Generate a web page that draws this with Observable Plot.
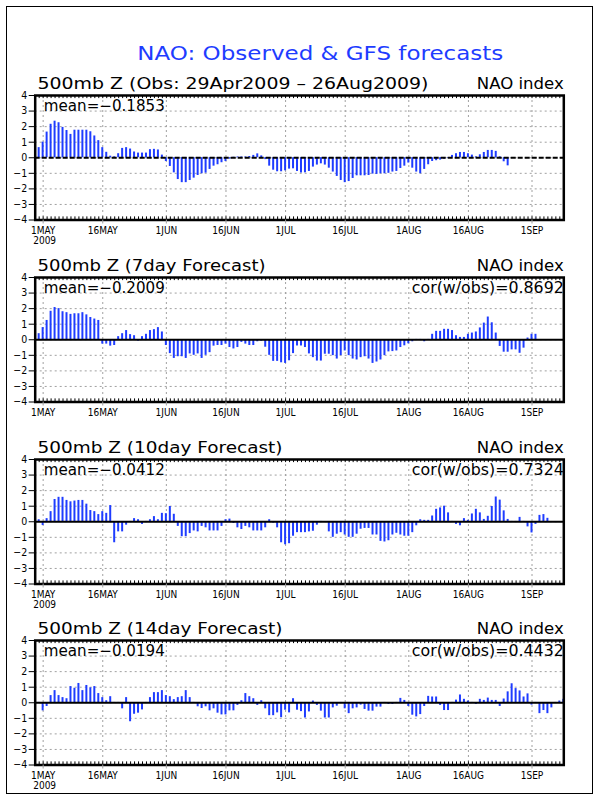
<!DOCTYPE html>
<html>
<head>
<meta charset="utf-8">
<script src="https://cdn.jsdelivr.net/npm/d3@7"></script>
<script src="https://cdn.jsdelivr.net/npm/@observablehq/plot@0.6"></script>
<style>
  body { margin: 0; background: #fff; }
  #wrap { position: relative; width: 600px; height: 800px; background: #fff; overflow: hidden; }
  #border { position: absolute; left: 6px; top: 6px; width: 587px; height: 788px; border: 1px solid #000; box-sizing: border-box; }
  .panel { position: absolute; left: 0; }
  .panel svg { overflow: visible; background: transparent; }
</style>
</head>
<body>
<div id="wrap"><div id="border"></div></div>
<script>
// ---------------- data ----------------
const startDate = "2009-04-29";
const tickDates = ["2009-05-01","2009-05-16","2009-06-01","2009-06-16","2009-07-01","2009-07-16","2009-08-01","2009-08-16","2009-09-01"];
const tickLabels = ["1MAY","16MAY","1JUN","16JUN","1JUL","16JUL","1AUG","16AUG","1SEP"];
const yTicks = [-4,-3,-2,-1,0,1,2,3,4];
const chartTitle = "NAO: Observed & GFS forecasts";
const panelTitles = ["500mb Z (Obs: 29Apr2009 – 26Aug2009)","500mb Z (7day Forecast)","500mb Z (10day Forecast)","500mb Z (14day Forecast)"];
const indexLabel = "NAO index";
const meanLabels = ["mean=−0.1853","mean=−0.2009","mean=−0.0412","mean=−0.0194"];
const corLabels = [null,"cor(w/obs)=0.8692","cor(w/obs)=0.7324","cor(w/obs)=0.4432"];
const yearLabel = "2009";

// Observed daily NAO index, 29Apr2009 - 26Aug2009
const obs = [0.42,0.65,1.0,1.65,2.15,2.35,2.25,1.95,1.75,1.5,1.77,1.77,1.77,1.77,1.67,1.4,1.1,0.65,0.35,0.1,
  0.06,0.26,0.6,0.65,0.56,0.37,0.3,0.3,0.3,0.52,0.54,0.5,0.17,-0.24,-0.56,-0.97,-1.4,-1.6,-1.6,-1.46,
  -1.31,-1.14,-1.03,-0.99,-0.75,-0.54,-0.45,-0.32,-0.24,-0.09,0.03,0.05,0.05,0.05,0.08,0.15,0.25,0.12,-0.12,-0.54,
  -0.8,-0.9,-0.9,-0.84,-0.73,-0.71,-0.88,-0.98,-0.97,-0.88,-0.6,-0.47,-0.39,-0.47,-0.67,-0.92,-1.2,-1.46,-1.6,-1.53,
  -1.33,-1.16,-1.16,-1.16,-1.14,-1.05,-1.07,-1.03,-1.03,-1.0,-0.92,-0.88,-0.69,-0.54,-0.34,-0.67,-0.92,-1.03,-0.75,-0.45,
  -0.24,-0.19,-0.15,-0.1,-0.04,0.15,0.26,0.34,0.34,0.26,0.17,0.06,0.19,0.34,0.47,0.47,0.41,0.06,-0.26,-0.52];

// 7-day forecast, valid 29Apr2009 - 02Sep2009
const fc7 = [0.03,0.39,0.78,1.24,1.83,2.07,2.0,1.8,1.74,1.63,1.67,1.67,1.74,1.6,1.43,1.33,1.24,-0.28,-0.28,-0.41,
  -0.37,0.2,0.39,0.59,0.33,0.26,-0.09,0.2,0.35,0.59,0.65,0.78,0.5,-0.37,-0.89,-1.2,-1.09,-1.09,-1.2,-0.91,
  -1.0,-0.91,-1.2,-1.0,-0.83,-0.41,-0.37,-0.37,-0.28,-0.5,-0.59,-0.5,-0.17,-0.28,-0.37,-0.37,-0.13,-0.09,-0.48,-1.0,
  -1.39,-1.39,-1.48,-1.52,-1.35,-0.89,-0.4,-0.4,-0.5,-0.91,-1.15,-1.37,-1.37,-0.93,-0.93,-1.02,-1.24,-1.02,-0.72,-1.02,
  -1.24,-1.3,-1.15,-1.09,-1.24,-1.52,-1.43,-1.3,-1.02,-0.78,-0.76,-0.72,-0.5,-0.39,-0.26,-0.13,0.02,0.02,-0.13,0.02,
  0.35,0.54,0.54,0.67,0.67,0.59,0.26,0.15,0.15,0.35,0.43,0.5,0.76,1.07,1.46,1.09,0.43,-0.43,-0.8,-0.8,
  -0.65,-0.65,-0.87,-0.54,0.11,0.35,0.35];

// 10-day forecast, valid 29Apr2009 - 05Sep2009
const fc10 = [0.17,0.13,-0.24,0.2,0.65,1.43,1.57,1.57,1.37,1.28,1.33,1.37,1.37,1.13,0.72,0.65,0.46,0.65,0.54,1.04,
  -1.35,-0.65,-0.65,-0.22,0.02,0.2,0.13,-0.17,0.02,0.13,0.33,0.13,0.54,0.52,0.98,0.48,-0.3,-0.96,-0.96,-0.76,
  -0.59,-0.65,-0.3,-0.39,-0.59,-0.59,-0.59,-0.3,0.13,0.17,-0.11,-0.39,-0.5,-0.3,-0.39,-0.59,-0.59,-0.59,-0.39,0.13,
  -0.09,-0.39,-1.35,-1.48,-1.41,-0.93,-0.7,-0.7,-0.7,-0.65,-0.61,-0.22,0.02,-0.03,-0.65,-1.0,-0.8,-0.7,-0.85,-1.0,
  -1.0,-0.8,-0.48,-0.43,-0.43,-0.85,-0.85,-1.26,-1.3,-1.22,-0.85,-0.74,-0.85,-0.93,-0.93,-0.7,-0.26,0.13,0.09,0.09,
  0.37,0.8,0.89,1.0,0.57,0.02,-0.17,-0.26,0.2,0.09,0.5,0.8,0.57,0.15,0.35,0.98,1.59,1.39,0.7,0.15,
  0.02,0.02,0.28,0.02,-0.33,-0.72,-0.17,0.41,0.46,0.22];

// 14-day forecast, valid 29Apr2009 - 09Sep2009
const fc14 = [0.09,0.02,-0.52,-0.24,0.46,0.78,0.46,0.33,0.26,1.04,0.93,1.24,0.78,1.11,0.96,1.04,0.59,0.33,0.13,0.39,
  0.02,0.02,-0.39,0.33,-1.22,-0.74,-0.67,-0.46,0.02,0.33,0.65,0.65,0.78,0.46,0.39,0.2,0.33,0.39,0.78,0.33,
  0.02,-0.26,-0.37,-0.26,-0.52,-0.39,-0.67,-0.78,-0.78,-0.52,-0.52,-0.17,0.13,0.59,0.39,0.26,-0.17,0.13,-0.39,-0.83,
  -0.83,-0.65,-0.96,-0.48,-0.65,0.26,-0.48,-0.57,-0.98,-0.59,0.11,-0.17,-0.54,-0.98,-0.98,-0.33,-0.22,0.02,-0.39,-0.7,
  -0.39,-0.33,-0.15,-0.43,-0.54,-0.54,-0.28,-0.28,0.02,-0.11,-0.11,0.02,0.28,0.15,-0.24,-0.8,-0.91,-0.76,-0.24,0.41,
  0.37,0.37,-0.17,-0.5,-0.5,0.02,0.17,0.5,0.22,0.11,0.02,-0.11,0.22,0.15,0.3,0.15,0.15,-0.24,0.24,0.7,
  1.22,0.91,0.76,0.37,0.57,-0.15,0.02,-0.7,-0.5,-0.7,-0.33,0.02,0.11,0.22];

const series = [obs, fc7, fc10, fc14];

// ---------------- layout / style ----------------
const BLUE = "rgb(30,60,255)";
const GRID = "rgb(160,160,160)";
const frameTops = [94.5, 276.6, 458.8, 639.6];
const frameH = 124.5;
const mLeft = 34.7, mRight = 36.7;
const xDomain = [new Date("2009-04-29T00:00Z"), new Date("2009-09-09T00:00Z")];
const textLengths = new Map([
  [chartTitle, 366],
  [panelTitles[0], 391], [panelTitles[1], 228], [panelTitles[2], 245], [panelTitles[3], 245],
  [indexLabel, 87],
  ...meanLabels.map(m => [m, 121]),
  ...corLabels.filter(Boolean).map(c => [c, 152])
]);
const LABEL_FONT = "DejaVu Sans Condensed, DejaVu Sans, sans-serif";

const DAY = 864e5;
const t0 = Date.parse(startDate + "T00:00Z");
const tickDateObjs = tickDates.map(s => new Date(s + "T00:00Z"));
const tickLabelOf = new Map(tickDateObjs.map((d, i) => [+d, tickLabels[i]]));
const allDays = d3.range(0, 134).map(i => new Date(t0 + i * DAY));

const wrap = document.getElementById("wrap");

series.forEach((vals, k) => {
  const data = vals.map((v, i) => ({date: new Date(t0 + i * DAY), v}));
  const mt = k === 0 ? 70 : 40;
  const mb = 30;
  const marks = [
    Plot.gridY(yTicks.filter(t => t > -4 && t < 4), {stroke: GRID, strokeOpacity: 1, strokeDasharray: "2,3"}),
    Plot.gridX(tickDateObjs, {stroke: GRID, strokeOpacity: 1, strokeDasharray: "2,3"}),
    Plot.rect(data, {
      x1: d => new Date(+d.date - DAY / 4),
      x2: d => new Date(+d.date + DAY / 4),
      y1: 0, y2: "v", fill: BLUE, clip: true
    }),
    Plot.ruleY([0], {stroke: "black", strokeWidth: 2, strokeDasharray: k === 0 ? "5,2" : null}),
    Plot.ruleX(allDays, {x: d => d, y1: 4, y2: 3.8, stroke: "black", strokeWidth: 1, clip: true}),
    Plot.ruleX(allDays, {x: d => d, y1: -4, y2: -3.8, stroke: "black", strokeWidth: 1, clip: true}),
    Plot.frame({stroke: "black", strokeWidth: 2.5}),
    Plot.axisY({ticks: yTicks, tickSize: 6, tickPadding: 2, fontSize: 10.5, label: null,
      fontFamily: LABEL_FONT,
      tickFormat: d => d < 0 ? "−" + (-d) : String(d)}),
    Plot.axisX({ticks: tickDateObjs, tickSize: 4, tickPadding: 2.5, fontSize: 10, label: null,
      stroke: GRID, fontFamily: LABEL_FONT,
      tickFormat: d => tickLabelOf.get(+d)}),
    Plot.text([panelTitles[k]], {frameAnchor: "top-left", textAnchor: "start", lineAnchor: "top",
      dx: 2.3, dy: -17.2, fontSize: 15, fill: "black"}),
    Plot.text([indexLabel], {frameAnchor: "top-right", textAnchor: "end", lineAnchor: "top",
      dx: 0, dy: -17.2, fontSize: 15, fill: "black"}),
    Plot.text([meanLabels[k]], {frameAnchor: "top-left", textAnchor: "start", lineAnchor: "top",
      dx: 8.6, dy: 4.9, fontSize: 15, fill: "black"})
  ];
  if (corLabels[k]) {
    marks.push(Plot.text([corLabels[k]], {frameAnchor: "top-right", textAnchor: "end", lineAnchor: "top",
      dx: 0, dy: 4.9, fontSize: 15, fill: "black"}));
  }
  if (k !== 1) {
    marks.push(Plot.text([yearLabel], {frameAnchor: "bottom-left", textAnchor: "start", lineAnchor: "top",
      dx: -2, dy: 16.5, fontSize: 10, fill: "black", fontFamily: LABEL_FONT}));
  }
  if (k === 0) {
    marks.push(Plot.text([chartTitle], {frameAnchor: "top", textAnchor: "middle", lineAnchor: "top",
      dx: 20.8, dy: -50.2, fontSize: 20, fill: BLUE}));
  }
  const svg = Plot.plot({
    width: 600,
    height: mt + frameH + mb,
    marginLeft: mLeft, marginRight: mRight, marginTop: mt, marginBottom: mb,
    style: {fontFamily: "DejaVu Sans, sans-serif", background: "transparent", overflow: "visible"},
    x: {type: "utc", domain: xDomain},
    y: {domain: [-4, 4]},
    marks
  });
  svg.querySelectorAll("text").forEach(t => {
    const L = textLengths.get(t.textContent);
    if (L) { t.setAttribute("textLength", L); t.setAttribute("lengthAdjust", "spacingAndGlyphs"); }
  });
  const div = document.createElement("div");
  div.className = "panel";
  div.style.top = (frameTops[k] - mt) + "px";
  div.appendChild(svg);
  wrap.appendChild(div);
});
</script>
</body>
</html>
